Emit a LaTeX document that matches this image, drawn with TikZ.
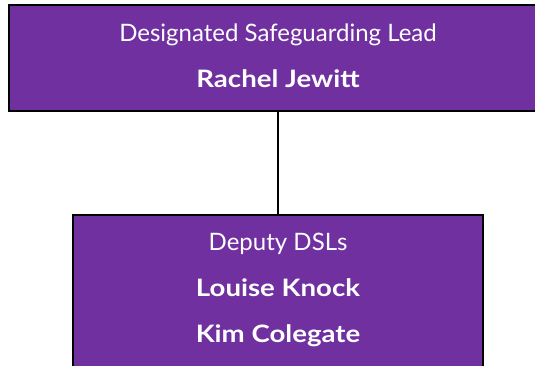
\documentclass[tikz,border=0pt]{standalone}
\usepackage{fontspec}
\setmainfont{Lato}
\newfontfamily\namefont[FakeStretch=1.15]{Lato Bold}
\usepackage{xcolor}
\usepackage{tikz}
\definecolor{dslpurple}{RGB}{112,48,160}
\tikzset{
  rolebox/.style={shape=rectangle, draw=black, line width=2pt, fill=dslpurple, inner sep=0pt},
  roletext/.style={anchor=base, text=white, inner sep=0pt, font=\fontsize{24}{28}\selectfont},
  nametext/.style={roletext, font=\fontsize{24}{28}\selectfont\namefont}
}
\begin{document}
\begin{tikzpicture}[x=1pt, y=-1pt]
    	% Frame and boxes:
    	\useasboundingbox (0,0) rectangle (535,365);
    	\clip (0,0) rectangle (535,365);
    	\node[rolebox, minimum width=536pt, minimum height=106pt](DSL) at (277, 58){};
    	\node[rolebox, minimum width=410pt, minimum height=180pt](Deputy) at (278, 305){};
    	% Texts:
    	\node[roletext] at (278, 41){Designated Safeguarding Lead};
    	\node[nametext] at (278, 87){Rachel Jewitt};
    	\node[roletext] at (278, 250){Deputy DSLs};
    	\node[nametext] at (278, 296){Louise Knock};
    	\node[nametext] at (278, 342){Kim Colegate};
    	% Wire:
    	\draw[line width=2pt] (DSL.south -| 278,0) -- (Deputy.north);
    	\end{tikzpicture}
\end{document}
